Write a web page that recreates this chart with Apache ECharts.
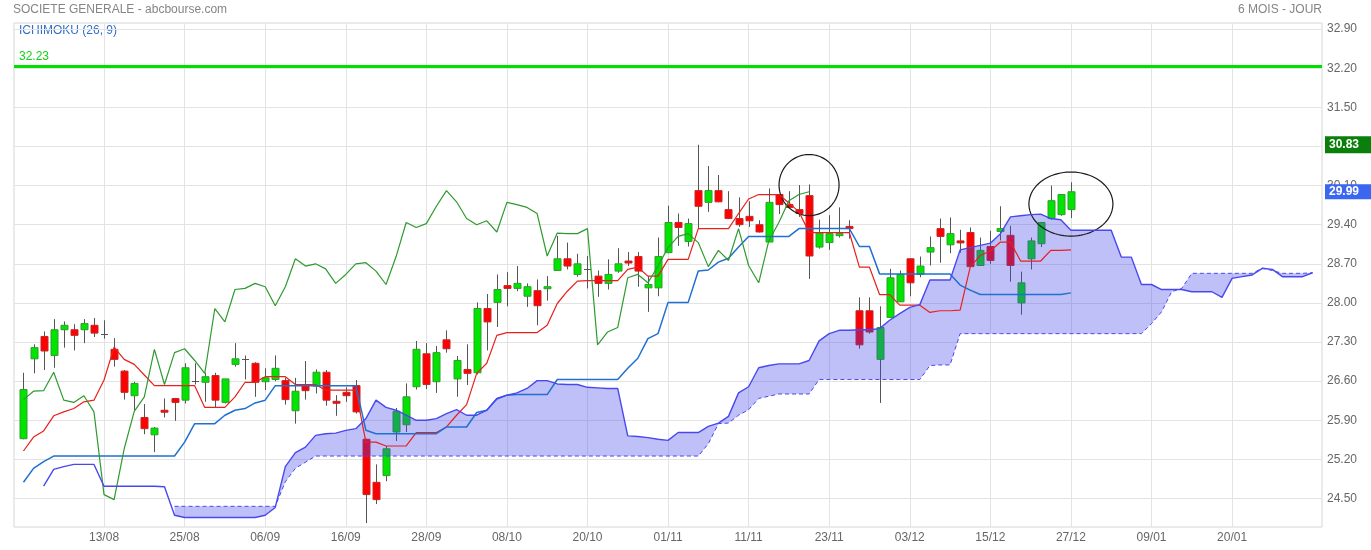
<!DOCTYPE html>
<html>
<head>
<meta charset="utf-8">
<script src="https://cdn.jsdelivr.net/npm/echarts@6/dist/echarts.min.js"></script>
<style>
html,body{margin:0;padding:0;background:#fff;}
#chart{width:1371px;height:550px;}
</style>
</head>
<body>
<div id="chart"></div>
<script>
// ---------- DATA ----------
const tickIdx = [8,16,24,32,40,48,56,64,72,80,88,96,104,112,120];
const tickLabels = ['13/08','25/08','06/09','16/09','28/09','08/10','20/10','01/11','11/11','23/11','03/12','15/12','27/12','09/01','20/01'];
const yTicks = [24.5,25.2,25.9,26.6,27.3,28.0,28.7,29.4,30.1,30.8,31.5,32.2,32.9];

// candles: open, close, low, high (index = trading day 0..104)
const opens = [25.57,27.00,27.40,27.06,27.52,27.52,27.52,27.60,27.45,27.17,26.78,26.34,25.95,25.64,26.08,26.29,26.26,26.60,26.58,26.70,
26.22,26.90,26.99,26.92,26.59,26.63,26.61,26.07,26.54,26.51,26.76,26.24,26.40,26.52,25.56,24.79,24.91,25.69,25.82,26.50,
27.09,26.59,27.34,26.64,26.81,26.75,27.90,28.01,28.31,28.26,28.12,28.22,28.26,28.58,28.79,28.51,28.61,28.48,28.35,28.57,
28.75,28.83,28.27,28.27,28.90,29.44,29.10,30.01,29.80,30.01,29.67,29.51,29.55,29.40,29.09,29.94,29.76,29.67,29.92,29.00,
29.08,29.21,29.37,27.86,27.86,26.99,27.74,28.02,28.79,28.51,28.91,29.33,29.04,29.11,29.26,28.67,29.01,29.28,29.21,28.00,
28.79,29.06,29.51,29.58,29.67];
const closes = [26.45,27.20,27.14,27.52,27.60,27.42,27.63,27.46,27.45,26.99,26.40,26.56,25.75,25.76,26.05,26.22,26.84,26.60,26.68,26.26,
26.64,27.00,26.99,26.58,26.66,26.83,26.27,26.42,26.43,26.76,26.26,26.22,26.34,26.05,24.57,24.48,25.39,26.06,26.32,27.17,
26.54,27.11,27.18,26.97,26.74,27.90,27.66,28.24,28.26,28.35,28.29,27.95,28.29,28.79,28.66,28.70,28.61,28.35,28.51,28.70,
28.72,28.57,28.33,28.83,29.44,29.35,29.42,29.73,30.01,29.81,29.51,29.40,29.47,29.27,29.80,29.76,29.71,29.60,28.84,29.25,
29.24,29.24,29.33,27.25,27.48,27.56,28.45,28.51,28.36,28.66,28.99,29.19,29.24,29.08,28.65,28.94,28.76,29.33,28.67,28.36,
29.11,29.44,29.83,29.94,29.99];
const lows = [25.56,26.74,26.80,26.84,27.20,27.15,27.28,27.39,27.36,26.86,26.27,26.08,25.65,25.33,25.95,25.89,26.20,26.54,26.23,26.13,
26.20,26.86,26.63,26.32,26.44,26.60,26.18,25.84,26.27,26.38,26.16,25.98,26.23,26.02,24.06,24.40,24.81,25.53,25.69,26.45,
26.46,26.39,27.11,26.32,26.53,26.72,27.15,27.57,27.94,28.21,27.93,27.60,28.04,28.58,28.60,28.47,28.26,28.11,28.24,28.54,
28.66,28.29,27.84,28.12,28.89,29.02,29.01,29.34,29.63,29.80,29.50,29.36,29.36,29.26,29.09,29.59,29.70,29.54,28.43,28.97,
28.95,29.17,29.15,27.18,27.45,26.21,27.74,28.02,28.12,28.46,28.67,28.72,28.89,28.90,28.65,28.67,28.70,29.12,28.38,27.79,
28.60,29.00,29.49,29.56,29.52];
const highs = [26.75,27.26,27.49,27.71,27.67,27.62,27.71,27.73,27.69,27.37,26.80,26.59,26.19,25.78,26.29,26.30,26.92,26.92,26.75,26.75,
26.64,27.28,27.06,26.94,26.83,27.06,26.66,26.66,26.96,26.81,26.80,26.35,26.49,26.62,25.57,25.11,25.44,26.12,26.56,27.32,
27.28,27.23,27.51,27.05,27.26,28.01,28.16,28.51,28.55,28.66,28.35,28.42,28.48,29.20,29.08,28.88,28.84,28.58,28.78,28.98,
28.91,28.91,28.48,29.17,29.74,29.60,29.51,30.83,30.45,30.29,30.00,29.89,29.82,29.48,30.05,29.95,30.00,30.11,30.12,29.49,
29.57,29.71,29.48,28.10,28.10,27.94,28.61,28.58,28.80,28.83,29.19,29.51,29.53,29.31,29.35,29.17,29.29,29.73,29.38,28.56,
29.17,29.44,30.10,29.94,30.16];

// Tenkan-sen (9) from day 0
const tenkan = [25.35,25.60,25.71,25.98,26.05,26.11,26.23,26.26,26.62,27.21,26.99,26.90,26.71,26.52,26.52,26.52,26.52,26.52,26.13,26.13,
26.13,26.32,26.58,26.58,26.68,26.68,26.68,26.54,26.54,26.54,26.44,26.44,26.44,26.44,25.51,25.51,25.44,25.44,25.44,25.68,
25.68,25.68,25.78,25.99,26.18,26.74,26.92,27.42,27.47,27.47,27.47,27.47,27.60,27.99,28.21,28.39,28.40,28.40,28.40,28.40,
28.60,28.64,28.48,28.48,28.78,28.78,28.78,29.33,29.33,29.33,29.33,29.60,29.86,29.94,29.94,29.94,29.79,29.63,29.26,29.26,
29.26,29.26,29.26,28.64,28.64,28.15,28.15,27.96,27.96,27.96,27.83,27.86,27.86,27.87,28.64,28.85,28.93,29.09,29.09,28.75,
28.75,28.75,28.94,28.94,28.95];
// Kijun-sen (26) from day 0
const kijun = [24.79,25.04,25.16,25.26,25.26,25.26,25.26,25.26,25.26,25.26,25.26,25.26,25.26,25.26,25.26,25.26,25.51,25.84,25.84,25.84,
25.99,26.08,26.11,26.21,26.26,26.52,26.52,26.52,26.52,26.52,26.52,26.52,26.52,26.52,25.72,25.66,25.66,25.66,25.66,25.66,
25.66,25.66,25.78,25.78,25.78,26.04,26.08,26.28,26.35,26.36,26.36,26.36,26.36,26.63,26.63,26.63,26.63,26.63,26.63,26.63,
26.83,27.01,27.36,27.45,28.01,28.01,28.01,28.57,28.59,28.73,28.80,29.00,29.19,29.19,29.19,29.19,29.19,29.33,29.33,29.33,
29.33,29.33,29.33,29.01,29.01,28.52,28.52,28.52,28.52,28.52,28.52,28.52,28.52,28.32,28.23,28.15,28.15,28.15,28.15,28.15,
28.15,28.15,28.15,28.15,28.18];
// Chikou span (close plotted 26 days back) from day 0
const chikou = [26.27,26.42,26.43,26.76,26.26,26.22,26.34,26.05,24.57,24.48,25.39,26.06,26.32,27.17,26.54,27.11,27.18,26.97,26.74,27.90,
27.66,28.24,28.26,28.35,28.29,27.95,28.29,28.79,28.66,28.70,28.61,28.35,28.51,28.70,28.72,28.57,28.33,28.83,29.44,29.35,
29.42,29.73,30.01,29.81,29.51,29.40,29.47,29.27,29.80,29.76,29.71,29.60,28.84,29.25,29.24,29.24,29.33,27.25,27.48,27.56,
28.45,28.51,28.36,28.66,28.99,29.19,29.24,29.08,28.65,28.94,28.76,29.33,28.67,28.36,29.11,29.44,29.83,29.94,29.99];
// Senkou span A from day 2 to day 128
const senkouAStart = 2;
const senkouA = [24.72,25.02,25.07,25.11,25.11,25.11,24.72,24.72,24.72,24.72,24.72,24.72,24.71,24.20,24.16,24.16,24.16,24.16,24.16,24.16,
24.16,24.16,24.20,24.34,25.07,25.32,25.42,25.63,25.66,25.67,25.72,25.75,25.93,26.26,26.13,26.08,25.99,25.90,25.90,25.93,
26.02,26.09,25.99,25.99,26.08,26.29,26.35,26.39,26.47,26.61,26.61,26.55,26.54,26.54,26.49,26.48,26.47,26.47,25.62,25.61,
25.59,25.56,25.54,25.68,25.68,25.68,25.79,25.85,25.97,26.39,26.50,26.84,26.88,26.91,26.91,26.91,26.97,27.32,27.45,27.51,
27.51,27.52,27.52,27.54,27.69,27.81,27.92,27.97,28.41,28.41,28.41,28.95,28.99,29.03,29.07,29.24,29.54,29.56,29.58,29.59,
29.51,29.49,29.30,29.30,29.30,29.30,29.30,28.82,28.82,28.33,28.33,28.24,28.24,28.24,28.20,28.20,28.20,28.10,28.44,28.47,
28.50,28.62,28.60,28.47,28.47,28.47,28.54];
// Senkou span B from day 15 to day 128
const senkouBStart = 15;
const senkouB = [24.36,24.36,24.36,24.36,24.36,24.36,24.36,24.36,24.36,24.36,24.36,24.80,25.04,25.15,25.26,25.26,25.26,25.26,25.26,25.26,
25.26,25.26,25.26,25.26,25.26,25.26,25.26,25.26,25.26,25.26,25.26,25.26,25.26,25.26,25.26,25.26,25.26,25.26,25.26,25.26,
25.26,25.26,25.26,25.26,25.26,25.26,25.26,25.26,25.26,25.26,25.26,25.26,25.26,25.48,25.84,25.85,25.99,26.09,26.29,26.33,
26.37,26.37,26.37,26.37,26.63,26.63,26.63,26.63,26.63,26.63,26.63,26.63,26.63,26.63,26.63,26.88,26.89,26.89,27.45,27.45,
27.45,27.45,27.45,27.45,27.45,27.45,27.45,27.45,27.45,27.45,27.45,27.45,27.45,27.45,27.45,27.45,27.45,27.63,27.84,28.20,
28.26,28.53,28.53,28.53,28.53,28.53,28.53,28.53,28.62,28.58,28.53,28.53,28.53,28.54];

const levelLine = 32.23;   // horizontal green level
const highLabel = 30.83;   // green tag on right axis
const lastClose = 29.99;   // blue tag on right axis
// hand-drawn annotations: [center day, center price, x radius (days), y radius (price)]
const annotations = [[78.0, 30.11, 2.98, 0.546],[104.0, 29.77, 4.17, 0.573]];

// ---------- CHART ----------
const FONT = '"Liberation Sans", Arial, sans-serif';
const chart = echarts.init(document.getElementById('chart'), null, {renderer:'canvas'});

const candleData = opens.map((o,i)=>[i,o,closes[i],lows[i],highs[i]]);
const toXY = (arr, start) => arr.map((v,k)=>[start+k, v]);

function renderCandle(params, api){
  const i = api.value(0), o = api.value(1), c = api.value(2), l = api.value(3), h = api.value(4);
  const pO = api.coord([i,o]), pC = api.coord([i,c]), pL = api.coord([i,l]), pH = api.coord([i,h]);
  const x = Math.round(pO[0]) + 0.5;
  const w = 7;
  const children = [{type:'line', shape:{x1:x,y1:pH[1],x2:x,y2:pL[1]}, style:{stroke:'#555',lineWidth:1}}];
  if (o === c) {
    const y = Math.round(pC[1]) + 0.5;
    children.push({type:'line', shape:{x1:x-w/2,y1:y,x2:x+w/2,y2:y}, style:{stroke:'#555',lineWidth:1}});
  } else {
    const up = c > o;
    const top = Math.min(pO[1],pC[1]);
    const bh = Math.max(2, Math.abs(pO[1]-pC[1]));
    children.push({type:'rect', shape:{x:x-w/2,y:top,width:w,height:bh},
      style:{fill: up ? '#00e400' : '#ff0000', stroke: up ? '#2e9e2e' : '#c02a2a', lineWidth:1}});
  }
  return {type:'group', children};
}

function renderCloud(params, api){
  const last = senkouBStart + senkouB.length - 1;
  const pts = [];
  for (let k = senkouBStart; k <= last; k++) pts.push(api.coord([k, senkouA[k - senkouAStart]]));
  for (let k = last; k >= senkouBStart; k--) pts.push(api.coord([k, senkouB[k - senkouBStart]]));
  return {type:'polygon', shape:{points:pts}, style:{fill:'rgba(64,64,235,0.33)'}};
}

function renderEllipse(params, api){
  const c = api.coord([api.value(0), api.value(1)]);
  const sz = api.size([api.value(2), api.value(3)]);
  const pts = [];
  for (let t = 0; t < 90; t++){
    const a = t/90*Math.PI*2;
    pts.push([c[0]+sz[0]*Math.cos(a), c[1]+sz[1]*Math.sin(a)]);
  }
  return {type:'polygon', shape:{points:pts}, style:{fill:'none', stroke:'#1a1a1a', lineWidth:1.2}};
}

const tagLabel = (txt, bg, pad) => ({position:'end', formatter:txt, color:'#ffffff', fontWeight:'bold', fontSize:12,
  fontFamily:FONT, backgroundColor:bg, padding:pad, distance:3, show:true});

const option = {
  animation:false,
  backgroundColor:'#ffffff',
  textStyle:{fontFamily:FONT},
  grid:{left:14, right:49, top:23, bottom:23, show:true, borderColor:'#d6d6d6', borderWidth:1, containLabel:false},
  xAxis:{
    type:'value', min:-0.94, max:128.93,
    axisLine:{show:false},
    axisTick:{show:false, customValues:tickIdx},
    axisLabel:{customValues:tickIdx, color:'#666', fontSize:12, fontFamily:FONT, margin:5,
      formatter:(v)=>{const k = tickIdx.indexOf(Math.round(v)); return k>=0 ? tickLabels[k] : '';}},
    splitLine:{show:true, lineStyle:{color:'#e3e3e3', width:1}}
  },
  yAxis:{
    type:'value', position:'right', min:23.99, max:33.01,
    axisLine:{show:false},
    axisTick:{show:false, customValues:yTicks},
    axisLabel:{customValues:yTicks, color:'#666', fontSize:12, fontFamily:FONT, margin:5,
      formatter:(v)=>v.toFixed(2)},
    splitLine:{show:true, lineStyle:{color:'#e3e3e3', width:1}}
  },
  graphic:[
    {type:'text', left:13, top:4, style:{text:'SOCIETE GENERALE - abcbourse.com', fill:'#858585', font:'12px '+FONT}},
    {type:'text', right:49, top:4, style:{text:'6 MOIS - JOUR', fill:'#858585', font:'12px '+FONT}},
    {type:'text', left:19, top:25, style:{text:'ICHIMOKU (26, 9)', fill:'#2f6fc4', font:'12px '+FONT}}
  ],
  series:[
    {type:'custom', name:'candles', renderItem:renderCandle, data:candleData, encode:{x:0,y:[1,2,3,4]}, silent:true, clip:true},
    {type:'line', name:'tenkan', data:toXY(tenkan,0), symbol:'none', lineStyle:{color:'#e8201c', width:1.2}, silent:true},
    {type:'line', name:'kijun', data:toXY(kijun,0), symbol:'none', lineStyle:{color:'#1f70d2', width:1.5}, silent:true},
    {type:'line', name:'chikou', data:toXY(chikou,0), symbol:'none', lineStyle:{color:'#2f9a2f', width:1.2}, silent:true},
    {type:'custom', name:'cloud', renderItem:renderCloud, data:[[60,28]], encode:{x:0,y:1}, silent:true, clip:true},
    {type:'line', name:'senkouA', data:toXY(senkouA,senkouAStart), symbol:'none', lineStyle:{color:'#4848f0', width:1.4}, silent:true},
    {type:'line', name:'senkouB', data:toXY(senkouB,senkouBStart), symbol:'none', lineStyle:{color:'#4848f0', width:1, type:[4,3]}, silent:true,
      markLine:{silent:true, symbol:'none', animation:false, data:[
        {yAxis:levelLine, lineStyle:{color:'#00e000', width:3, type:'solid'},
          label:{position:'insideStartTop', formatter:'32.23', color:'#11d411', fontSize:12, fontFamily:FONT, distance:[5,4]}}
      ]}},
    {type:'line', name:'tags', data:[], symbol:'none', silent:true, clip:false,
      markLine:{silent:true, symbol:'none', animation:false, data:[
        {yAxis:highLabel, lineStyle:{color:'rgba(0,0,0,0)', width:1}, label:tagLabel('30.83','#0b7f0b',[3,12,2,4])},
        {yAxis:lastClose, lineStyle:{color:'rgba(0,0,0,0)', width:1}, label:tagLabel('29.99','#3a66f2',[2,12,1,4])}
      ]}},
    {type:'custom', name:'annotations', renderItem:renderEllipse, data:annotations, encode:{x:0,y:1}, silent:true, clip:false}
  ]
};
chart.setOption(option);
</script>
</body>
</html>
